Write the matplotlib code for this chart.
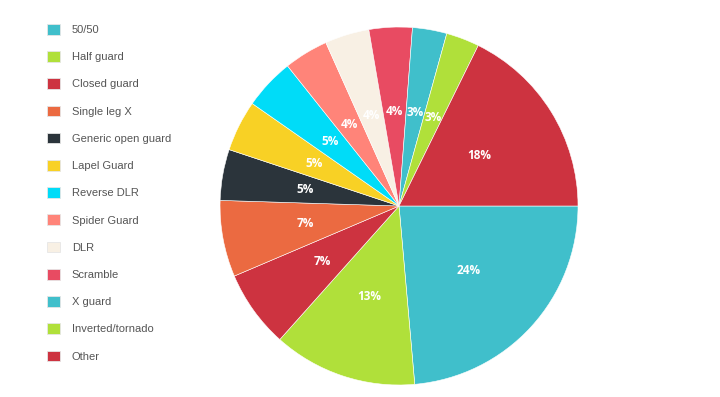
import matplotlib.pyplot as plt
from matplotlib.patches import Patch

# guard positions, share of total (%)
labels = ['50/50', 'Half guard', 'Closed guard', 'Single leg X', 'Generic open guard',
          'Lapel Guard', 'Reverse DLR', 'Spider Guard', 'DLR', 'Scramble',
          'X guard', 'Inverted/tornado', 'Other']
values = [23.6, 13.0, 7.0, 6.9, 4.6, 4.6, 4.6, 4.0, 4.0, 3.9, 3.1, 3.0, 17.7]
colors = ['#40bfcb', '#b0e03a', '#cd3340', '#eb6a41', '#2b343b', '#f8d125', '#00dcf8',
          '#ff8479', '#f8f0e4', '#e84b62', '#40bfcb', '#b0e03a', '#cd3340']

fig = plt.figure(figsize=(7.2, 3.97), dpi=100)
ax = fig.add_axes([0.3056, 0.0302, 0.4972, 0.9018])

wedges, texts, autotexts = ax.pie(values, colors=colors, startangle=0, counterclock=False,
                                  autopct='%.0f%%', pctdistance=0.53, radius=1,
                                  wedgeprops=dict(edgecolor='white', linewidth=0.4))
for t in autotexts:
    t.set_color('white')
    t.set_fontsize(8.5)
    t.set_fontweight('bold')
    t.set_family('Open Sans')
ax.set_xlim(-1, 1)
ax.set_ylim(-1, 1)
ax.set_aspect('equal')

handles = [Patch(facecolor=c, edgecolor='#e6e6e6', linewidth=0.6) for c in colors]
leg = fig.legend(handles, labels, loc='upper left', bbox_to_anchor=(0.052, 0.965),
                 frameon=False, handlelength=1.1, handleheight=1.1,
                 handletextpad=1.1, labelspacing=1.45,
                 prop={'family': 'Liberation Sans', 'size': 8})
for t in leg.get_texts():
    t.set_color('#555555')

fig.savefig('out.png', dpi=100)
